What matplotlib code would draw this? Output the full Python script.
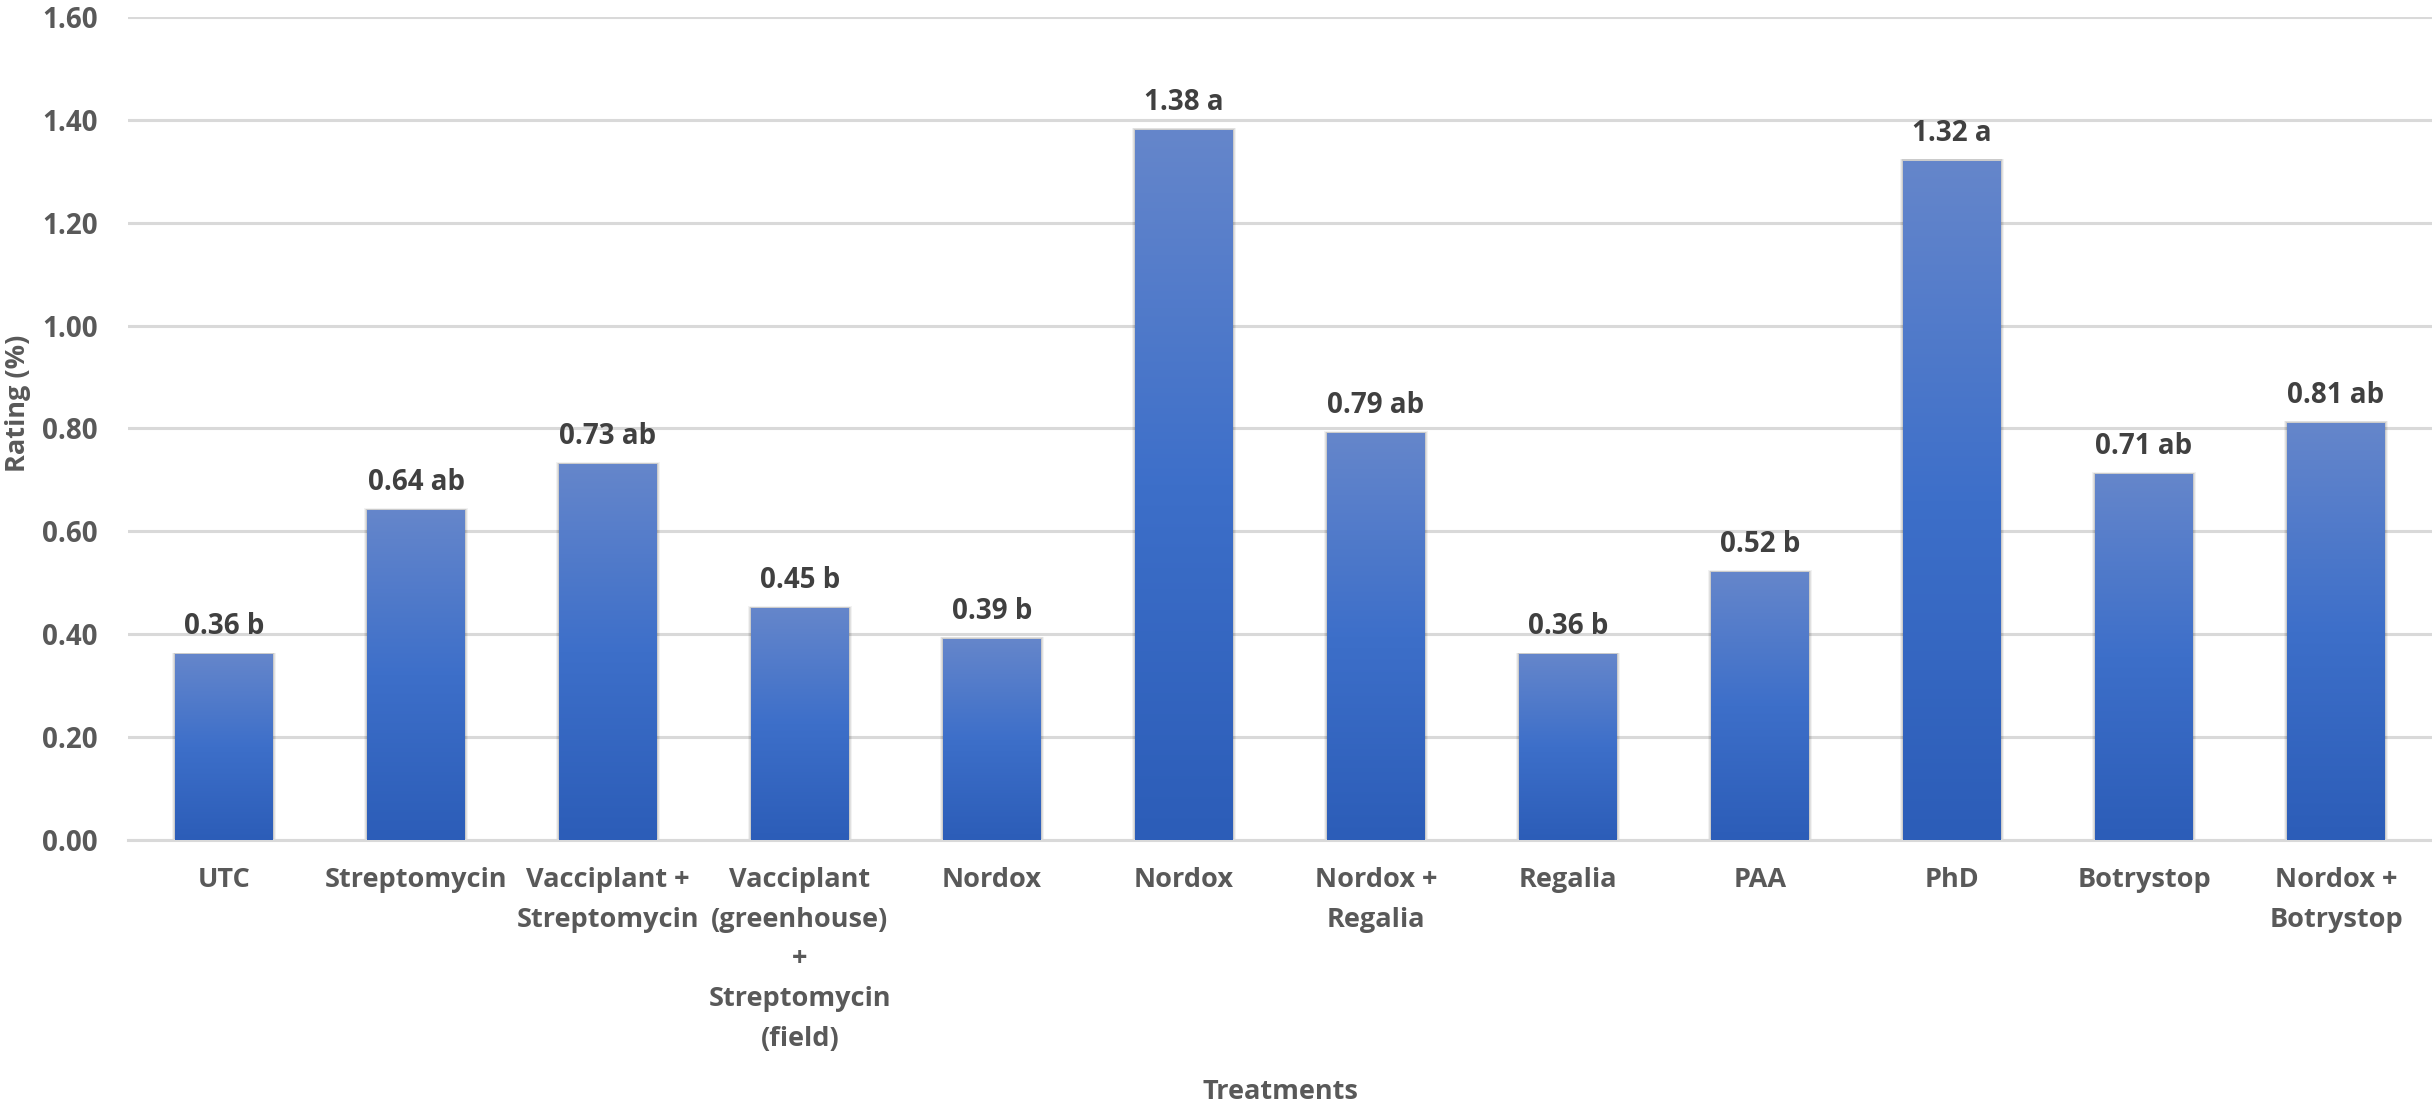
import numpy as np
import matplotlib
matplotlib.use("Agg")
from matplotlib import pyplot as plt
from matplotlib.colors import LinearSegmentedColormap
from matplotlib.patches import Rectangle
from matplotlib.transforms import blended_transform_factory

treatments = ["UTC", "Streptomycin", "Vacciplant +\nStreptomycin",
              "Vacciplant\n(greenhouse)\n+\nStreptomycin\n(field)",
              "Nordox", "Nordox", "Nordox +\nRegalia", "Regalia", "PAA",
              "PhD", "Botrystop", "Nordox +\nBotrystop"]
rating = [0.36, 0.64, 0.73, 0.45, 0.39, 1.38, 0.79, 0.36, 0.52, 1.32, 0.71, 0.81]
letters = ["b", "ab", "ab", "b", "b", "a", "ab", "b", "b", "a", "ab", "ab"]
yticks = [0.0, 0.2, 0.4, 0.6, 0.8, 1.0, 1.2, 1.4, 1.6]

plt.rcParams['font.family'] = ['Open Sans', 'DejaVu Sans']
plt.rcParams['font.weight'] = 'bold'

fig = plt.figure(figsize=(24.32, 11.01), dpi=100)
ax = fig.add_axes([128 / 2432, 261 / 1101, 1 - 128 / 2432, 823 / 1101])

cmap = LinearSegmentedColormap.from_list(
    "bar", ["#2C5DB8", "#3D6FC9", "#6586CB"])
grad = np.linspace(0, 1, 256).reshape(-1, 1)

width = 0.51
x = np.arange(len(treatments))
for i, v in enumerate(rating):
    x0 = x[i] - width / 2
    # soft shadow
    for k, a in zip([0.05, 0.035, 0.02], [0.05, 0.07, 0.09]):
        ax.add_patch(Rectangle((x0 - k * 0.3, -0.004), width + k * 0.6,
                               v + 0.006 + k * 0.05, facecolor="black",
                               alpha=a, edgecolor="none", zorder=2))
    ax.imshow(grad, extent=[x0, x0 + width, 0, v], origin="lower",
              aspect="auto", cmap=cmap, zorder=3)
    ax.text(x[i], v + 0.026, f"{v:.2f} {letters[i]}", ha="center",
            va="bottom", fontsize=20, fontweight="bold", color="#404040",
            zorder=4)

ax.set_xlim(-0.5, len(treatments) - 0.5)
ax.set_ylim(0, 1.6)
ax.set_yticks(yticks)
ax.set_yticklabels([f"{t:.2f}" for t in yticks])
ax.set_xticks(x)
ax.set_xticklabels([])
ax.tick_params(axis="both", length=0, colors="#595959", labelsize=20)
ax.tick_params(axis="y", pad=22)
for lab in ax.get_yticklabels():
    lab.set_fontweight("bold")

# category labels (multi-line, wider line spacing)
trans = blended_transform_factory(ax.transData, ax.transAxes)
for xi, name in zip(x, treatments):
    ax.text(xi, -0.033, name, transform=trans, ha="center", va="top",
            fontsize=19.5, fontweight="bold", color="#595959",
            linespacing=1.68)

ax.grid(axis="y", color="#D9D9D9", linewidth=2.2, zorder=0)
ax.set_axisbelow(True)
for s in ["top", "right", "left"]:
    ax.spines[s].set_visible(False)
ax.spines["bottom"].set_color("#D9D9D9")
ax.spines["bottom"].set_linewidth(2.2)

ax.set_xlabel("Treatments", fontsize=19.5, fontweight="bold", color="#595959")
ax.xaxis.set_label_coords(0.5, -0.29)
ax.set_ylabel("Rating (%)", fontsize=19.5, fontweight="bold", color="#595959")
ax.yaxis.set_label_coords(-0.042, 0.53)

fig.savefig("out.png", dpi=100)
